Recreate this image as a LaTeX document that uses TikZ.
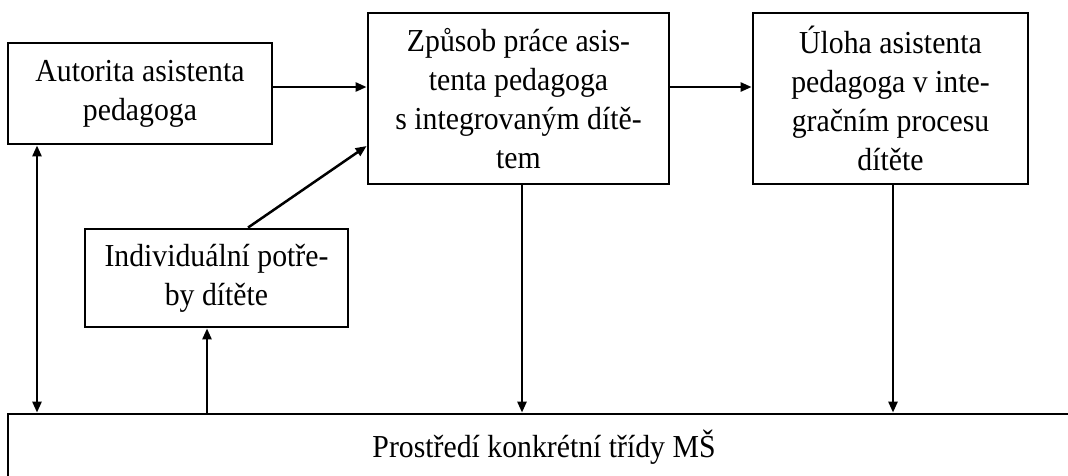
\documentclass[tikz,border=0pt]{standalone}
\usepackage{fontspec}
\setmainfont[FakeStretch=0.93]{Liberation Serif}
\usetikzlibrary{arrows.meta}

\begin{document}
\begin{tikzpicture}[
        x=1pt, y=-1pt,
        font=\fontsize{32}{39}\selectfont,
        box/.style={
            draw=black,
            line width=2.8pt,
            align=center,
            inner sep=0pt
        },
        arrow/.style={-{Triangle[length=11pt,width=9pt]}, line width=2.5pt},
        dblarrow/.style={{Triangle[length=11pt,width=9pt]}-{Triangle[length=11pt,width=9pt]}, line width=2.5pt}
    ]
        \useasboundingbox (0,0) rectangle (1068,475);
        \clip (0,0) rectangle (1068,475);

        \node[box, minimum width=264pt, minimum height=101pt] (auth) at (140,93.5)
            {Autorita asistenta\\pedagoga};
        \node[box, minimum width=301pt, minimum height=171pt] (work) at (518.5,98.5)
            {Způsob práce asis-\\tenta pedagoga\\s integrovaným dítě-\\tem};
        \node[box, minimum width=275pt, minimum height=171pt] (role) at (890.5,98.5)
            {Úloha asistenta\\pedagoga v inte-\\gračním procesu\\dítěte};
        \node[box, minimum width=263pt, minimum height=98pt] (need) at (216.5,278)
            {Individuální potře-\\by dítěte};
        \node[box, minimum width=1072pt, minimum height=66pt] (env) at (544,447)
            {Prostředí konkrétní třídy MŠ};

        \draw[arrow] ([yshift=6.5pt]auth.east) -- ([yshift=6.5pt]auth.east -| work.west);
        \draw[arrow] ([yshift=11.5pt]work.east) -- ([yshift=11.5pt]role.west);
        \draw[arrow] ([xshift=31.5pt]need.north) -- ([yshift=-47.5pt]work.west);
        \draw[dblarrow] ([xshift=-103pt]auth.south) -- ([xshift=-103pt]auth.south |- env.north);
        \draw[arrow] ([xshift=-9.5pt]need.south |- env.north) -- ([xshift=-9.5pt]need.south);
        \draw[arrow] ([xshift=3.5pt]work.south) -- ([xshift=3.5pt]work.south |- env.north);
        \draw[arrow] ([xshift=2.5pt]role.south) -- ([xshift=2.5pt]role.south |- env.north);
    \end{tikzpicture}
\end{document}
